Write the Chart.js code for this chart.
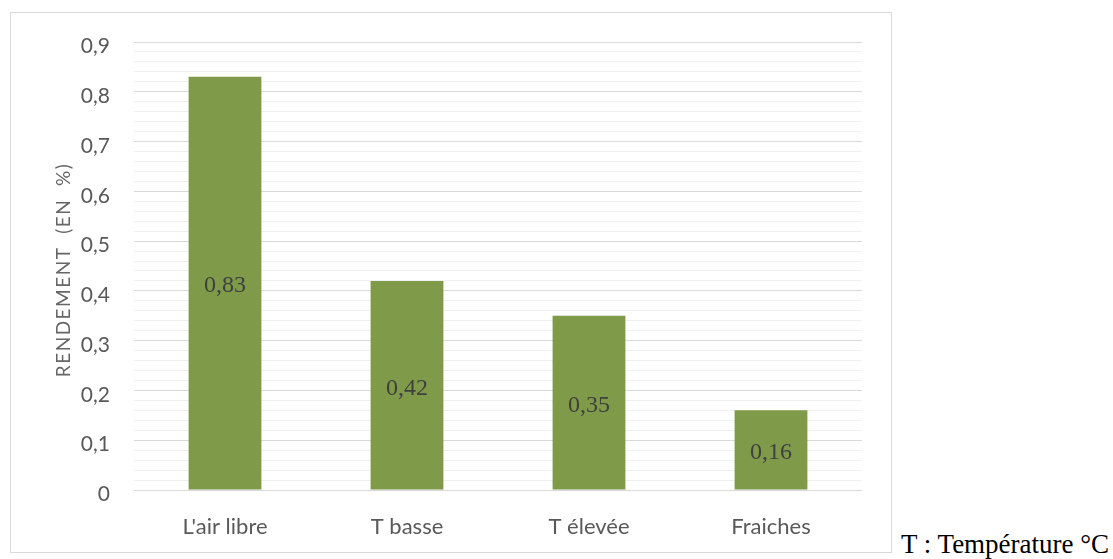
<!DOCTYPE html>
<html>
<head>
<meta charset="utf-8">
<script src="https://cdn.jsdelivr.net/npm/chart.js@4/dist/chart.umd.min.js"></script>
<style>
    body { margin: 0; background: #fff; width: 1113px; height: 559px; position: relative; overflow: hidden; }
    #box { position: absolute; left: 10px; top: 12px; width: 882px; height: 541px; border: 1px solid #d9d9d9; box-sizing: border-box; }
    #box canvas { display: block; }
    #legende { position: absolute; left: 901px; top: 529px; font-family: 'Liberation Serif', 'Times New Roman', serif; font-size: 27px; color: #000; white-space: nowrap; }
</style>
</head>
<body>
<div id="box"><canvas id="rendementChart" width="880" height="539"></canvas></div>
<div id="legende">T : Température °C</div>

<script>
// Données du graphique
const categories = ["L'air libre", 'T basse', 'T élevée', 'Fraiches'];
const rendements = [0.83, 0.42, 0.35, 0.16];
const yMax = 0.9;
const yStep = 0.02;   // lignes secondaires
const yTitle = 'RENDEMENT  (EN  %)';

const GREEN = '#7f9a48';
const TEXT = '#595959';
const SANS = "Lato, 'Open Sans', sans-serif";

function fmt(v, digits) {
    return v.toFixed(digits).replace('.', ',');
}

// Valeur écrite au milieu de chaque barre
const barValues = {
    id: 'barValues',
    afterDatasetsDraw(chart) {
        const ctx = chart.ctx;
        const meta = chart.getDatasetMeta(0);
        ctx.save();
        ctx.font = "24px 'Liberation Serif', 'Times New Roman', serif";
        ctx.fillStyle = '#404040';
        ctx.textAlign = 'center';
        ctx.textBaseline = 'middle';
        meta.data.forEach((bar, i) => {
            const yMid = (bar.y + bar.base) / 2;
            ctx.fillText(fmt(rendements[i], 2), bar.x, yMid + 3);
        });
        ctx.restore();
    }
};

const ctx = document.getElementById('rendementChart').getContext('2d');

new Chart(ctx, {
    type: 'bar',
    data: {
        labels: categories,
        datasets: [{
            data: rendements,
            backgroundColor: GREEN,
            borderWidth: 0,
            barPercentage: 0.4,
            categoryPercentage: 1
        }]
    },
    options: {
        responsive: false,
        animation: false,
        layout: { padding: { left: 0, right: 29, top: 29, bottom: 0 } },
        plugins: {
            legend: { display: false },
            tooltip: { enabled: false }
        },
        scales: {
            x: {
                grid: { display: false },
                border: { display: false },
                ticks: { color: TEXT, font: { family: SANS, size: 22 }, padding: 16 },
                afterFit(scale) { scale.height = 62; }
            },
            y: {
                min: 0,
                max: yMax,
                border: { display: false },
                grid: {
                    drawTicks: false,
                    lineWidth: 1,
                    color(c) {
                        const k = Math.round(c.tick.value * 100);
                        return k % 10 === 0 ? '#d9d9d9' : '#f0f0f0';
                    }
                },
                ticks: {
                    stepSize: yStep,
                    autoSkip: false,
                    padding: 24,
                    color: TEXT,
                    font: { family: SANS, size: 21, lineHeight: '9px' },
                    // ligne vide devant pour descendre un peu le libellé
                    callback(value) {
                        const k = Math.round(value * 100);
                        if (k % 10 !== 0) return '';
                        return ['', k === 0 ? '0' : fmt(value, 1)];
                    }
                },
                title: {
                    display: true,
                    text: yTitle,
                    color: '#666666',
                    font: { family: SANS, size: 19 },
                    padding: { top: 41, bottom: 0 }
                },
                afterFit(scale) {
                    scale.width = 123;
                    // la marge des libellés ne doit pas repousser la zone du graphique
                    scale.paddingTop = 0;
                    scale.paddingBottom = 0;
                    // titre un peu espacé
                    if (!scale._spaced) {
                        const drawTitle = scale.drawTitle;
                        scale.drawTitle = function () {
                            this.ctx.save();
                            this.ctx.letterSpacing = '1.5px';
                            this.ctx.translate(0, 4);
                            drawTitle.call(this);
                            this.ctx.restore();
                        };
                        scale._spaced = true;
                    }
                }
            }
        }
    },
    plugins: [barValues]
});
</script>
</body>
</html>
